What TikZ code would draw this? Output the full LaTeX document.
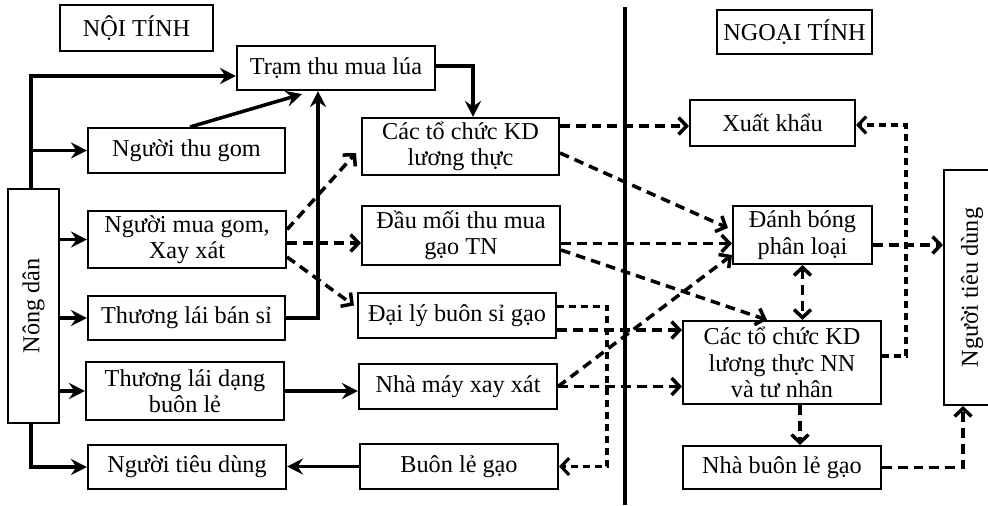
\documentclass[tikz,border=0pt]{standalone}
\usepackage{graphicx}
\usepackage{fontspec}
\setmainfont{Liberation Serif}
\usetikzlibrary{arrows.meta}

\begin{document}
\begin{tikzpicture}[x=0.02cm,y=-0.02cm,
    font=\fontsize{13.8}{15}\selectfont,
    box/.style={draw, line width=1.2pt, align=center, inner sep=1pt},
    arr/.style={line width=2pt, -{Stealth[length=3.2mm,width=3.2mm,inset=1.1mm]}},
    darr/.style={line width=2pt, dash pattern=on 5.5pt off 3.5pt, -{Straight Barb[length=1.6mm,width=3.4mm]}},
    sarr/.style={line width=1.8pt, dash pattern=on 4pt off 2.8pt, -{Straight Barb[length=1.6mm,width=3.4mm]}}]
    \useasboundingbox (0,0) rectangle (988,505);
    % khung
    \node[box, minimum width=3.06cm, minimum height=0.92cm] (noi) at (136.5,28) {NỘI TÍNH};
    \node[box, minimum width=3.1cm, minimum height=0.88cm] (ngoai) at (794.5,32) {NGOẠI TÍNH};
    \node[box, minimum width=1.02cm, minimum height=4.68cm] (nd) at (33.5,306) {\rotatebox{90}{Nông dân}};
    \node[box, minimum width=3.96cm, minimum height=0.88cm] (tram) at (336,68) {Trạm thu mua lúa};
    \node[box, minimum width=3.94cm, minimum height=0.9cm] (thugom) at (186.5,150.5) {Người thu gom};
    \node[box, minimum width=3.96cm, minimum height=1.14cm] (muagom) at (187,239.5) {Người mua gom,\\Xay xát};
    \node[box, minimum width=3.94cm, minimum height=0.88cm] (bansi) at (186.5,318) {Thương lái bán sỉ};
    \node[box, minimum width=3.96cm, minimum height=1.16cm] (buonle) at (185,391) {Thương lái dạng\\buôn lẻ};
    \node[box, minimum width=3.96cm, minimum height=0.88cm] (ntdA) at (187,467) {Người tiêu dùng};
    \node[box, minimum width=3.94cm, minimum height=1.14cm] (kdlt) at (460.5,146.5) {Các tổ chức KD\\lương thực};
    \node[box, minimum width=3.96cm, minimum height=1.18cm] (daumoi) at (461,235.5) {Đầu mối thu mua\\gạo TN};
    \node[box, minimum width=3.96cm, minimum height=0.9cm] (daily) at (457,315.5) {Đại lý buôn sỉ gạo};
    \node[box, minimum width=3.96cm, minimum height=0.9cm] (nhamay) at (458,386.5) {Nhà máy xay xát};
    \node[box, minimum width=3.96cm, minimum height=0.9cm] (buonlegao) at (459,466.5) {Buôn lẻ gạo};
    \node[box, minimum width=3.3cm, minimum height=0.92cm] (xuatkhau) at (772.5,123) {Xuất khẩu};
    \node[box, minimum width=2.78cm, minimum height=1.16cm] (danhbong) at (802.5,235) {Đánh bóng\\phân loại};
    \node[box, minimum width=3.96cm, minimum height=1.66cm] (kdnn) at (782,362.5) {Các tổ chức KD\\lương thực NN\\và tư nhân};
    \node[box, minimum width=3.96cm, minimum height=0.86cm] (nhabuonle) at (782,467.5) {Nhà buôn lẻ gạo};
    \node[box, minimum width=1.12cm, minimum height=4.7cm] (ntdB) at (972,287.5) {\rotatebox{90}{Người tiêu dùng}};
    % diem phu
    \coordinate (mgB) at ([yshift=-0.07cm]muagom.east);
    \coordinate (ltA) at ([yshift=0.41cm]kdlt.east);
    \coordinate (dmA) at ([yshift=-0.16cm]daumoi.east);
    \coordinate (dlB) at ([yshift=-0.29cm]daily.east);
    \coordinate (dbA) at ([yshift=-0.2cm]danhbong.east);
    % duong phan chia
    \coordinate (divtop) at (625,7);
    \coordinate (divbot) at (625,505);
    \draw[line width=1.9pt] (divtop) -- (divbot);
    % noi tinh
    \draw[arr] ([xshift=-0.05cm]nd.north) |- ([yshift=-0.16cm]tram.west);
    \draw[arr] ([xshift=-0.05cm]nd.north |- thugom.west) -- (thugom.west);
    \draw[arr] (nd.east |- muagom.west) -- (muagom.west);
    \draw[arr] (nd.east |- bansi.west) -- (bansi.west);
    \draw[arr] (nd.east |- buonle.west) -- (buonle.west);
    \draw[arr] ([xshift=-0.05cm]nd.south) |- (ntdA.west);
    \draw[arr] ([xshift=0.07cm]thugom.north) -- ([xshift=-0.68cm,yshift=-0.06cm]tram.south);
    \draw[arr] (bansi.east) -| ([xshift=-0.36cm]tram.south);
    \draw[arr] ([yshift=0.04cm]tram.east) -| ([xshift=0.25cm]kdlt.north);
    \draw[darr] ([yshift=0.2cm]muagom.east) -- ([xshift=-0.1cm,yshift=-0.13cm]kdlt.west);
    \draw[darr] (mgB) -- (mgB -| daumoi.west);
    \draw[darr] ([yshift=-0.35cm]muagom.east) -- ([xshift=-0.06cm,yshift=0.2cm]daily.west);
    \draw[arr] (buonle.east) -- (nhamay.west |- buonle.east);
    \draw[arr] (buonlegao.west) -- (buonlegao.west -| ntdA.east);
    \draw[sarr] ([yshift=0.18cm]daily.east) -- ++(1cm,0) |- (buonlegao.east);
    % ngoai tinh
    \draw[darr] (ltA) -- (ltA -| xuatkhau.west);
    \draw[darr] ([yshift=-0.13cm]kdlt.east) -- ([xshift=-0.08cm,yshift=0.14cm]danhbong.west);
    \draw[darr] (dmA) -- (dmA -| danhbong.west);
    \draw[darr] ([yshift=-0.29cm]daumoi.east) -- ([xshift=-0.3cm]kdnn.north);
    \draw[darr] (dlB) -- (dlB -| kdnn.west);
    \draw[darr] (nhamay.east) -- (kdnn.west |- nhamay.east);
    \draw[darr] (nhamay.east) -- ([yshift=-0.4cm]danhbong.west);
    \draw[darr, {Straight Barb[length=1.6mm,width=3.4mm]}-{Straight Barb[length=1.6mm,width=3.4mm]}] (danhbong.south) -- (danhbong.south |- kdnn.north);
    \draw[darr] (dbA) -- (dbA -| ntdB.west);
    \draw[sarr] ([yshift=0.13cm]kdnn.east) -- ++(0.48cm,0) |- ([yshift=-0.04cm]xuatkhau.east);
    \draw[darr] ([xshift=0.36cm]kdnn.south) -- ([xshift=0.36cm]nhabuonle.north);
    \draw[darr] (nhabuonle.east) -| ([xshift=-0.18cm]ntdB.south);
  \end{tikzpicture}
\end{document}
